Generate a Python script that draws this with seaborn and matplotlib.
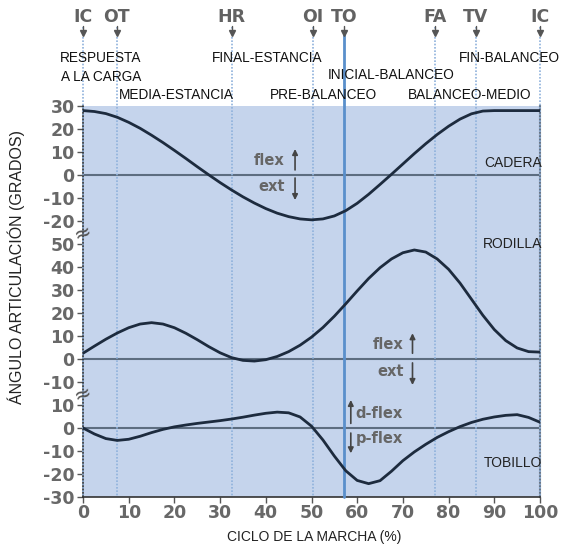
import numpy as np
import pandas as pd
import matplotlib
matplotlib.use("Agg")
import matplotlib.pyplot as plt
import seaborn as sns

# ---------------- data ----------------
pct = [0, 2.5, 5, 7.5, 10, 12.5, 15, 17.5, 20, 22.5, 25, 27.5, 30, 32.5, 35, 37.5,
       40, 42.5, 45, 47.5, 50, 52.5, 55, 57.5, 60, 62.5, 65, 67.5, 70, 72.5, 75,
       77.5, 80, 82.5, 85, 87.5, 90, 92.5, 95, 97.5, 100]

hip = [28, 27.6, 26.7, 25.1, 22.9, 20.3, 17.3, 14.1, 10.7, 7.2, 3.6, 0.1, -3.3,
       -6.5, -9.5, -12.2, -14.6, -16.6, -18.1, -19.1, -19.5, -19.1, -17.8, -15.5,
       -12.3, -8.4, -4.1, 0.3, 4.8, 9.3, 13.6, 17.6, 21.2, 24.3, 26.6, 27.8, 28,
       28, 28, 28, 28]

knee = [2.5, 5.6, 8.6, 11.3, 13.6, 15.2, 15.8, 15.2, 13.6, 11.2, 8.4, 5.4, 2.7,
        0.6, -0.6, -0.9, -0.3, 1.1, 3.2, 6.0, 9.5, 13.7, 18.6, 24.0, 29.6, 35.0,
        39.7, 43.5, 46.2, 47.4, 46.5, 43.5, 39.0, 33.0, 26.0, 19.0, 12.8, 8.0,
        4.8, 3.2, 3.0]

ankle = [0, -2.6, -4.6, -5.4, -4.9, -3.6, -2.0, -0.6, 0.5, 1.3, 2.0, 2.6, 3.2,
         3.9, 4.7, 5.6, 6.4, 6.9, 6.6, 4.8, 0.8, -5.2, -12.2, -18.6, -22.8, -24.2,
         -22.9, -18.8, -14.2, -10.4, -7.1, -4.1, -1.6, 0.6, 2.4, 3.8, 4.8, 5.5,
         5.8, 4.6, 2.5]

hip_ticks = [30, 20, 10, 0, -10, -20]
knee_ticks = [50, 40, 30, 20, 10, 0, -10]
ankle_ticks = [10, 0, -10, -20, -30]
x_ticks = [0, 10, 20, 30, 40, 50, 60, 70, 80, 90, 100]

event_names = ["IC", "OT", "HR", "OI", "TO", "FA", "TV", "IC"]
event_pos = [0, 7.4, 32.5, 50.3, 57.2, 77, 86, 100]

phase_names = ["RESPUESTA", "A LA CARGA", "MEDIA-ESTANCIA", "FINAL-ESTANCIA",
               "PRE-BALANCEO", "INICIAL-BALANCEO", "BALANCEO-MEDIO", "FIN-BALANCEO"]

# layout offsets of the three stacked panels (global y units)
HIP_OFF, KNEE_OFF, ANK_OFF = 110, 30, 0

# ---------------- figure ----------------
sns.set_theme(style="white")
plt.rcParams['font.family'] = ['Liberation Sans', 'DejaVu Sans']

fig = plt.figure(figsize=(5.67, 5.5), dpi=100)
ax = fig.add_axes([83/567, 1-497/550, (540-83)/567, (497-106)/550])
ax.set_facecolor('#c5d4ec')
ax.set_xlim(0, 100)
ax.set_ylim(-30, 140)

df = pd.DataFrame({"pct": pct,
                   "hip": np.array(hip) + HIP_OFF,
                   "knee": np.array(knee) + KNEE_OFF,
                   "ankle": np.array(ankle) + ANK_OFF})

# zero lines
for off in (HIP_OFF, KNEE_OFF, ANK_OFF):
    ax.axhline(off, color='#5d6d80', lw=1.5, zorder=2)

line_col = '#1d2b3e'
for col in ("hip", "knee", "ankle"):
    sns.lineplot(data=df, x="pct", y=col, ax=ax, color=line_col, lw=2.0, zorder=4,
                 solid_joinstyle='round', solid_capstyle='round')

# event lines
top_line = 174.5
for name, xp in zip(event_names, event_pos):
    if name == "TO":
        ax.plot([xp, xp], [171.5, -30], color='#5a8fcb', lw=2.0, clip_on=False, zorder=3)
    else:
        ax.plot([xp, xp], [top_line, -30], color='#8fb2dc', lw=1.2,
                ls=(0, (1, 1)), clip_on=False, zorder=3)
    ax.plot([xp], [171.8], marker='v', ms=4, color='#555555', clip_on=False, zorder=5)
    ax.plot([xp, xp], [175, 172], color='#555555', lw=1, clip_on=False, zorder=5)
    ax.text(xp, 178.5, name, ha='center', va='center', fontsize=12.5,
            fontweight='bold', color='#626262', family='DejaVu Sans')

# phase labels
ptxt = dict(ha='center', va='center', fontsize=9.8, color='#111111')
ax.text(3.9, 160.9, phase_names[0], **ptxt)
ax.text(3.9, 152.6, phase_names[1], **ptxt)
ax.text(20.4, 144.8, phase_names[2], **ptxt)
ax.text(40.3, 160.9, phase_names[3], **ptxt)
ax.text(52.7, 144.8, phase_names[4], **ptxt)
ax.text(67.4, 153.5, phase_names[5], **ptxt)
ax.text(84.5, 144.8, phase_names[6], **ptxt)
ax.text(93.2, 160.9, phase_names[7], **ptxt)

# joint labels
jtxt = dict(ha='right', va='center', fontsize=10, color='#222222')
ax.text(100.4, 115.3, "CADERA", **jtxt)
ax.text(100.4, 80.0, "RODILLA", **jtxt)
ax.text(100.4, -15.3, "TOBILLO", **jtxt)

# flex / ext annotations
ftxt = dict(fontsize=10.5, fontweight='bold', color='#666666', family='DejaVu Sans', va='center')
arr = dict(arrowstyle='-|>', color='#444444', lw=1.2, mutation_scale=8, shrinkA=0, shrinkB=0)
ax.text(44.2, 116.5, "flex", ha='right', **ftxt)
ax.text(44.2, 104.9, "ext", ha='right', **ftxt)
ax.annotate("", xy=(46.4, 121.3), xytext=(46.4, 112.2), arrowprops=arr)
ax.annotate("", xy=(46.4, 99.1), xytext=(46.4, 108.7), arrowprops=arr)

ax.text(70.2, 36.1, "flex", ha='right', **ftxt)
ax.text(70.2, 24.5, "ext", ha='right', **ftxt)
ax.annotate("", xy=(72.1, 41.2), xytext=(72.1, 32.5), arrowprops=arr)
ax.annotate("", xy=(72.1, 18.7), xytext=(72.1, 28.3), arrowprops=arr)

ax.text(59.6, 6.4, "d-flex", ha='left', **ftxt)
ax.text(59.6, -4.5, "p-flex", ha='left', **ftxt)
ax.annotate("", xy=(58.6, 12.2), xytext=(58.6, 2.0), arrowprops=arr)
ax.annotate("", xy=(58.6, -11.0), xytext=(58.6, -2.2), arrowprops=arr)

# ticks
ytick_pos = [t + HIP_OFF for t in hip_ticks] + [t + KNEE_OFF for t in knee_ticks] + \
            [t + ANK_OFF for t in ankle_ticks]
ytick_lab = [str(t) for t in hip_ticks + knee_ticks + ankle_ticks]
ax.set_yticks(ytick_pos)
ax.set_yticklabels(ytick_lab)
ax.set_xticks(x_ticks)
ax.set_xticklabels([str(t) for t in x_ticks])
for lab in ax.get_xticklabels() + ax.get_yticklabels():
    lab.set_fontfamily('DejaVu Sans')
    lab.set_fontweight('bold')
    lab.set_fontsize(12.5)
    lab.set_color('#686868')
ax.tick_params(axis='both', direction='out', length=4, width=1, color='#555555',
               left=True, bottom=True)
ax.tick_params(axis='y', pad=2)
ax.tick_params(axis='x', pad=1)
ax.set_xlabel("")
ax.set_ylabel("")

# spines
for s in ("left", "bottom"):
    ax.spines[s].set_color('#333333')
    ax.spines[s].set_linewidth(1.2)
ax.spines['right'].set_color('#6a7686')
ax.spines['right'].set_linewidth(1.5)
ax.spines['top'].set_visible(False)

# axis breaks
for yb in (85, 15):
    ax.text(0, yb, "≈", ha='center', va='center', fontsize=15, color='#555555',
            rotation=20, family='DejaVu Sans', clip_on=False, zorder=6)

fig.text(16/567, 1-267/550, "ÁNGULO ARTICULACIÓN (GRADOS)", rotation=90,
         ha='center', va='center', fontsize=11.5, color='#222222')
fig.text(314/567, 1-537/550, "CICLO DE LA MARCHA (%)", ha='center', va='center',
         fontsize=10, color='#222222')

fig.savefig("out.png", dpi=100)
